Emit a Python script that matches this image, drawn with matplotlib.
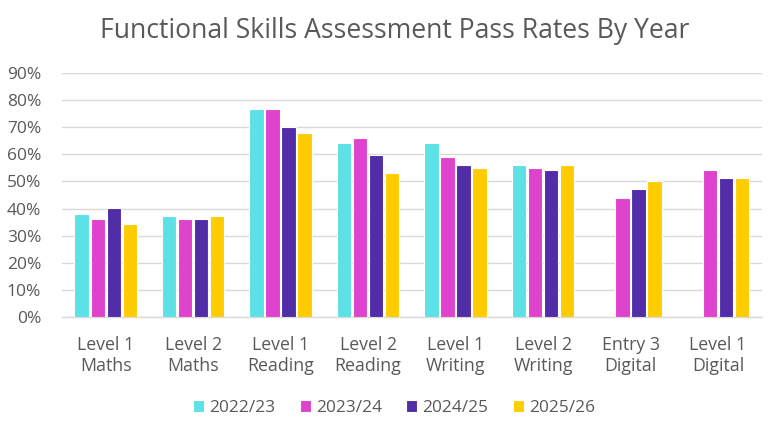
import numpy as np
import matplotlib.pyplot as plt
from matplotlib.ticker import PercentFormatter

categories = ['Level 1\nMaths', 'Level 2\nMaths', 'Level 1\nReading', 'Level 2\nReading',
              'Level 1\nWriting', 'Level 2\nWriting', 'Entry 3\nDigital', 'Level 1\nDigital']
years = ['2022/23', '2023/24', '2024/25', '2025/26']
y2022 = [37.9, 37.2, 76.8, 64.1, 64.1, 56.1, np.nan, np.nan]
y2023 = [36.0, 36.0, 76.9, 66.0, 59.2, 55.0, 44.0, 54.4]
y2024 = [40.3, 36.0, 70.2, 59.8, 56.1, 54.4, 47.1, 51.3]
y2025 = [34.3, 37.2, 67.8, 53.1, 55.0, 56.1, 50.1, 51.3]
series = [y2022, y2023, y2024, y2025]
colors = ['#5CE1E6', '#DF42CD', '#512DA8', '#FFCC00']

plt.rcParams['font.family'] = ['Open Sans', 'DejaVu Sans']
grey = '#595959'

fig = plt.figure(figsize=(7.71, 4.30), dpi=100)
ax = fig.add_axes([0.0804, 0.2635, 0.9076, 0.566])

x = np.arange(len(categories))
pitch = 0.183
width = 0.165
for i, vals in enumerate(series):
    ax.bar(x + (i - 1.5) * pitch, vals, width, color=colors[i], edgecolor='white',
           linewidth=0.8, label=years[i], zorder=3)

ax.set_xlim(-0.5, len(categories) - 0.5)
ax.set_ylim(0, 90)
ax.set_yticks(np.arange(0, 91, 10))
ax.yaxis.set_major_formatter(PercentFormatter(decimals=0))
ax.set_xticks(x)
ax.set_xticklabels(categories, linespacing=1.2)
ax.grid(axis='y', color='#D9D9D9', linewidth=1.0, zorder=0)
for s in ['top', 'right', 'left']:
    ax.spines[s].set_visible(False)
ax.spines['bottom'].set_color('#D9D9D9')
ax.spines['bottom'].set_linewidth(1.0)
ax.tick_params(axis='both', length=0, colors=grey)
ax.tick_params(axis='x', pad=14, labelsize=12.8)
ax.tick_params(axis='y', pad=15, labelsize=12.5)

fig.text(0.512, 0.928, 'Functional Skills Assessment Pass Rates By Year', ha='center',
         va='center', fontsize=19.1, color=grey)

fig.legend(loc='center', bbox_to_anchor=(0.511, 0.051), ncol=4, frameon=False,
           fontsize=12.4, handlelength=0.65, handleheight=0.65, handletextpad=0.3,
           columnspacing=1.4, labelcolor=grey)

fig.savefig('out.png', dpi=100)
